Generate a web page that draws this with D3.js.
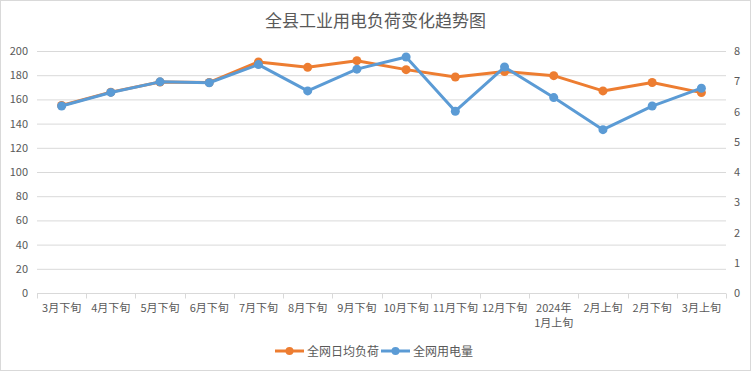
<!DOCTYPE html>
<html>
<head>
<meta charset="utf-8">
<script src="https://cdn.jsdelivr.net/npm/d3@7"></script>
<style>
	body { margin: 0; background: #fff; }
	svg { display: block; font-family: "Noto Sans CJK SC", "Microsoft YaHei", sans-serif; }
</style>
</head>
<body>
<svg id="chart" width="751" height="371"></svg>
<script>

// categories (two-line label split by \n)
const categories = ["3月下旬", "4月下旬", "5月下旬", "6月下旬", "7月下旬", "8月下旬", "9月下旬",
	"10月下旬", "11月下旬", "12月下旬", "2024年\n1月上旬", "2月上旬", "2月下旬", "3月上旬"];

// 全网日均负荷 (left axis)
const loadValues = [155, 166, 174.4, 174, 191, 186.5, 192, 184.6, 178.5, 183, 179.6, 167, 174, 165.6];

// 全网用电量 (right axis)
const powerValues = [6.18, 6.63, 6.98, 6.95, 7.55, 6.68, 7.4, 7.8, 6.01, 7.47, 6.46, 5.4, 6.18, 6.77];

const leftTicks = [0, 20, 40, 60, 80, 100, 120, 140, 160, 180, 200];
const rightTicks = [0, 1, 2, 3, 4, 5, 6, 7, 8];

const seriesNames = ["全网日均负荷", "全网用电量"];
const colors = ["#ED7D31", "#5B9BD5"];

const svg = d3.select('#chart');
const W = 751, H = 371;
const margin = { left: 37, right: 25, top: 51, bottom: 78 };
const textColor = "#595959";
const gridColor = "#d9d9d9";

// chart border
svg.append("rect")
	.attr("x", 0.5).attr("y", 0.5)
	.attr("width", W - 1).attr("height", H - 1)
	.attr("fill", "#fff")
	.attr("stroke", gridColor);

// title
svg.append("text")
	.attr("x", W / 2).attr("y", 27)
	.attr("text-anchor", "middle")
	.attr("font-size", 17)
	.attr("fill", textColor)
	.text("全县工业用电负荷变化趋势图");

const x = d3.scaleBand()
	.domain(categories)
	.range([margin.left, W - margin.right]);

const yLeft = d3.scaleLinear().domain([0, 200]).range([H - margin.bottom, margin.top]);
const yRight = d3.scaleLinear().domain([0, 8]).range([H - margin.bottom, margin.top]);

// gridlines
svg.append("g")
	.selectAll("line")
	.data(leftTicks.slice(1))
	.enter()
	.append("line")
	.attr("x1", margin.left).attr("x2", W - margin.right)
	.attr("y1", d => yLeft(d) + 0.5).attr("y2", d => yLeft(d) + 0.5)
	.attr("stroke", gridColor);

// left axis labels
svg.append("g")
	.selectAll("text")
	.data(leftTicks)
	.enter()
	.append("text")
	.attr("x", margin.left - 9)
	.attr("y", d => yLeft(d) + 4)
	.attr("text-anchor", "end")
	.attr("font-size", 11)
	.attr("fill", textColor)
	.text(d => d);

// right axis labels
svg.append("g")
	.selectAll("text")
	.data(rightTicks)
	.enter()
	.append("text")
	.attr("x", W - margin.right + 8)
	.attr("y", d => yRight(d) + 4)
	.attr("text-anchor", "start")
	.attr("font-size", 11)
	.attr("fill", textColor)
	.text(d => d);

// x axis line + ticks
const y0 = yLeft(0) + 0.5;
svg.append("line")
	.attr("x1", margin.left).attr("x2", W - margin.right)
	.attr("y1", y0).attr("y2", y0)
	.attr("stroke", gridColor);

const boundaries = categories.map(c => x(c)).concat([x.range()[1]]);
svg.append("g")
	.selectAll("line")
	.data(boundaries)
	.enter()
	.append("line")
	.attr("x1", d => Math.round(d) + 0.5).attr("x2", d => Math.round(d) + 0.5)
	.attr("y1", y0).attr("y2", y0 + 5)
	.attr("stroke", gridColor);

// x labels, one text per line
categories.forEach(c => {
	c.split("\n").forEach((part, i) => {
		svg.append("text")
			.attr("x", x(c) + x.bandwidth() / 2)
			.attr("y", y0 + 18 + i * 15)
			.attr("text-anchor", "middle")
			.attr("font-size", 11)
			.attr("fill", textColor)
			.text(part);
	});
});

// lines
const cx = i => x(categories[i]) + x.bandwidth() / 2;

function drawSeries(values, yScale, color) {
	const line = d3.line()
		.x((d, i) => cx(i))
		.y(d => yScale(d));
	const g = svg.append("g");
	g.append("path")
		.datum(values)
		.attr("d", line)
		.attr("fill", "none")
		.attr("stroke", color)
		.attr("stroke-width", 3)
		.attr("stroke-linejoin", "round");
	g.selectAll("circle")
		.data(values)
		.enter()
		.append("circle")
		.attr("cx", (d, i) => cx(i))
		.attr("cy", d => yScale(d))
		.attr("r", 4.5)
		.attr("fill", color);
}

drawSeries(loadValues, yLeft, colors[0]);
drawSeries(powerValues, yRight, colors[1]);

// legend
const legendY = 351;
const legendItems = [
	{ name: seriesNames[0], color: colors[0], x: 275 },
	{ name: seriesNames[1], color: colors[1], x: 381 }
];
const lg = svg.append("g")
	.selectAll("g")
	.data(legendItems)
	.enter()
	.append("g")
	.attr("transform", d => `translate(${d.x},${legendY})`);
lg.append("line")
	.attr("x1", 0).attr("x2", 29)
	.attr("stroke", d => d.color)
	.attr("stroke-width", 3);
lg.append("circle")
	.attr("cx", 14.5).attr("r", 4)
	.attr("fill", d => d.color);
lg.append("text")
	.attr("x", 32).attr("y", 4.5)
	.attr("font-size", 12)
	.attr("fill", textColor)
	.text(d => d.name);

</script>
</body>
</html>
